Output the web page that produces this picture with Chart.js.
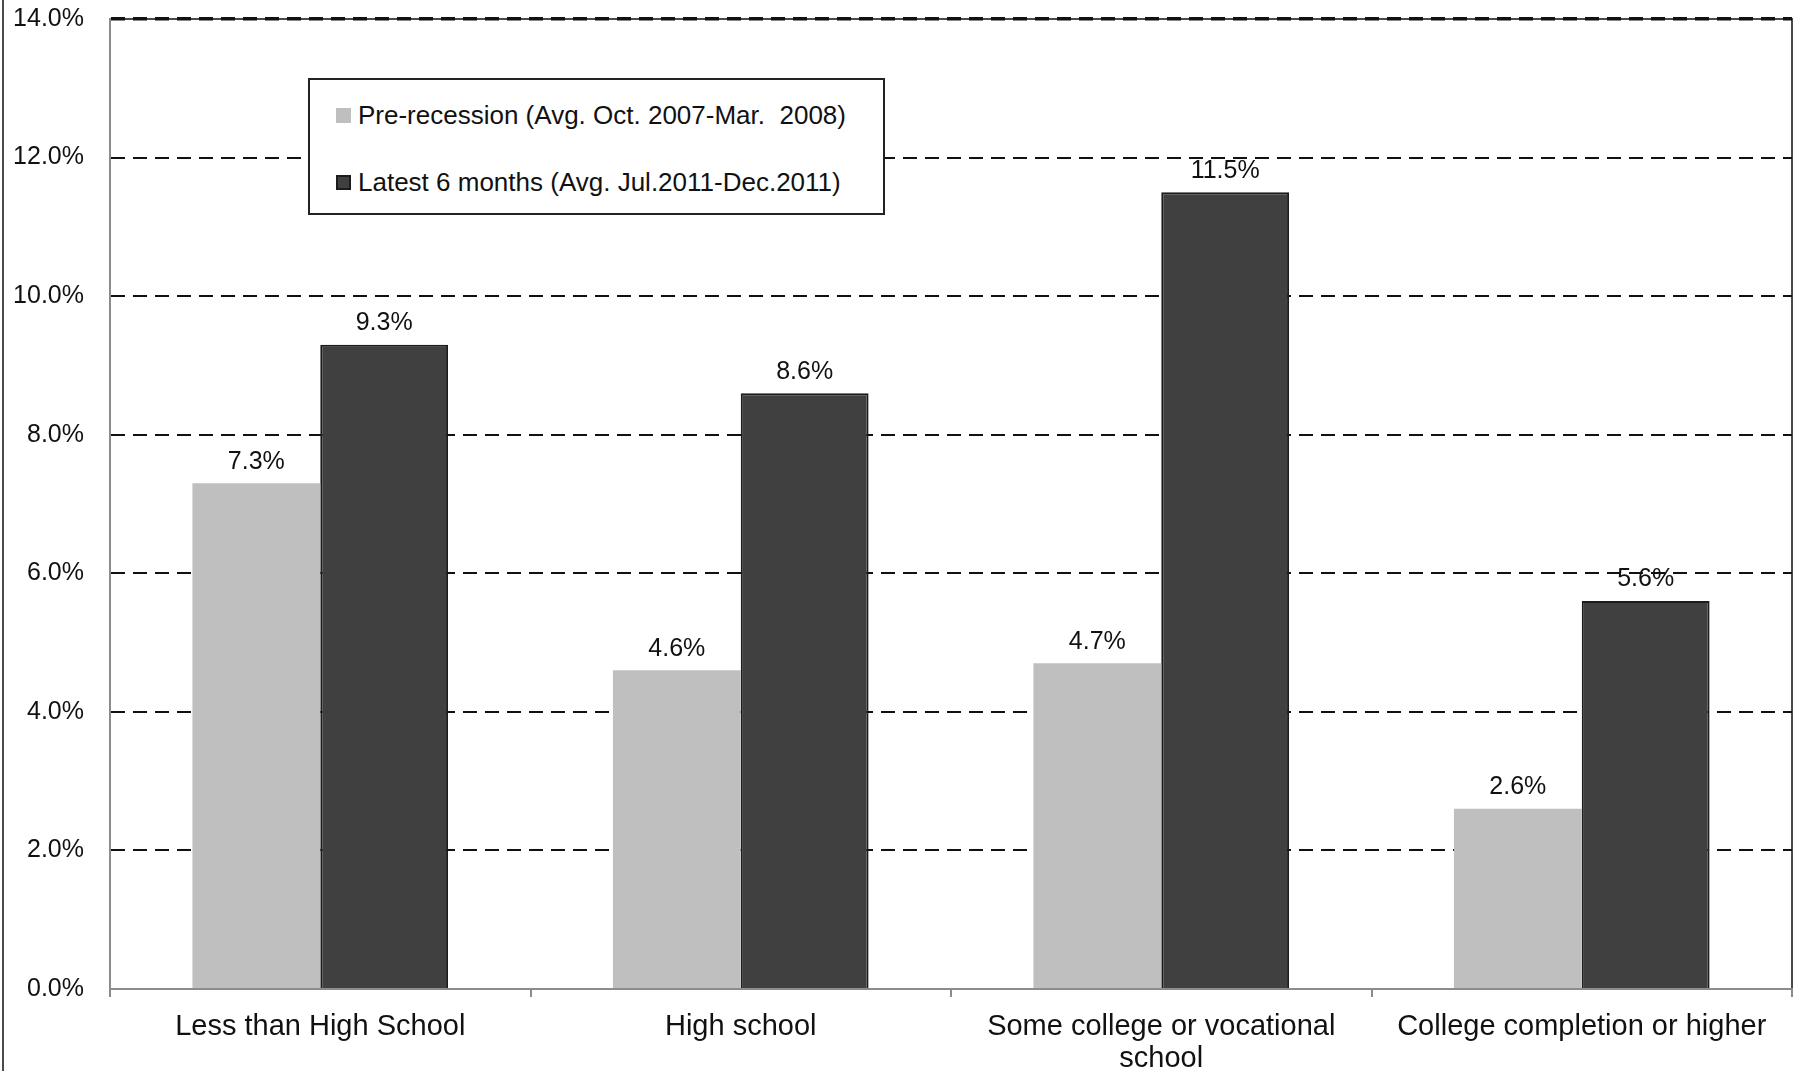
<!DOCTYPE html>
<html>
<head>
<meta charset="utf-8">
<script src="https://cdn.jsdelivr.net/npm/chart.js@4.4.1/dist/chart.umd.min.js"></script>
<style>
  body{margin:0;background:#fff;}
  #wrap{position:relative;width:1805px;height:1071px;overflow:hidden;}
  #edge{position:absolute;left:2px;top:0;width:2px;height:1071px;background:#4a4a4a;}
  #legend{position:absolute;left:308px;top:78px;width:577px;height:137px;border:2px solid #222;
          box-sizing:border-box;background:#fff;font:26px "Liberation Sans",Arial,sans-serif;color:#111;}
  #legend .item{position:absolute;left:26px;height:30px;display:flex;align-items:center;white-space:pre;}
  #legend .sw{width:15px;height:15px;margin-right:7px;box-sizing:border-box;}
</style>
</head>
<body>
<div id="wrap">
  <canvas id="chart" width="1805" height="1071"></canvas>
  <div id="edge"></div>
  <div id="legend"></div>
</div>
<script>
// unemployment rate by education level
const categories = [
  'Less than High School',
  'High school',
  ['Some college or vocational', 'school'],
  'College completion or higher'
];
const preRecession = [7.3, 4.6, 4.7, 2.6];
const latestSix    = [9.3, 8.6, 11.5, 5.6];
const seriesNames  = ['Pre-recession (Avg. Oct. 2007-Mar.  2008)', 'Latest 6 months (Avg. Jul.2011-Dec.2011)'];
const yMin = 0, yMax = 14, yStep = 2;

const FONT = '"Liberation Sans", Arial, sans-serif';
const pct = v => Number(v).toFixed(1) + '%';

// plot frame (right/top edges) under the grid
const plotFrame = {
  id:'plotFrame',
  beforeDraw(chart){
    const {ctx, chartArea:a} = chart;
    ctx.save();
    ctx.strokeStyle = '#4a4a4a'; ctx.lineWidth = 2;
    ctx.beginPath();
    ctx.moveTo(a.left, a.top); ctx.lineTo(a.right, a.top); ctx.lineTo(a.right, a.bottom);
    ctx.stroke();
    ctx.restore();
  }
};

// value labels above each bar
const valueLabels = {
  id:'valueLabels',
  afterDatasetsDraw(chart){
    const ctx = chart.ctx;
    ctx.save();
    ctx.font = '25px ' + FONT;
    ctx.fillStyle = '#111';
    ctx.textAlign = 'center';
    ctx.textBaseline = 'bottom';
    chart.data.datasets.forEach((ds, di) => {
      chart.getDatasetMeta(di).data.forEach((bar, i) => {
        ctx.fillText(pct(ds.data[i]), bar.x, bar.y - 9);
      });
    });
    ctx.restore();
  }
};

const chart = new Chart(document.getElementById('chart'), {
  type:'bar',
  data:{
    labels:categories,
    datasets:[
      {label:seriesNames[0], data:preRecession, backgroundColor:'#bfbfbf', borderWidth:0},
      {label:seriesNames[1], data:latestSix, backgroundColor:'#404040', borderColor:'#1c1c1c', borderWidth:2}
    ]
  },
  options:{
    responsive:false, animation:false, devicePixelRatio:1,
    categoryPercentage:0.608, barPercentage:1.0,
    layout:{padding:{left:0, right:13, top:0, bottom:0}},
    plugins:{legend:{display:false}, tooltip:{enabled:false}},
    scales:{
      x:{
        afterFit:s=>{ s.height = 82; },
        grid:{drawOnChartArea:false, drawTicks:true, tickLength:8, color:'#8c8c8c', lineWidth:2, offset:true},
        border:{color:'#8c8c8c', width:2},
        ticks:{font:{family:FONT, size:29, lineHeight:1.1}, color:'#111', padding:14, maxRotation:0, autoSkip:false}
      },
      y:{
        min:yMin, max:yMax,
        // fixed gutter; keep the tick padding from pushing the plot down
        afterFit:s=>{ s.width = 110; s.paddingTop = 19; s.paddingBottom = 15; },
        grid:{
          color:c=>c.tick && c.tick.value===0 ? 'rgba(0,0,0,0)' : '#111',
          lineWidth:c=>c.tick && c.tick.value===yMax ? 3.5 : 2,
          drawTicks:false
        },
        border:{color:'#8c8c8c', width:2, dash:[14,8]},
        ticks:{stepSize:yStep, callback:v=>pct(v), font:{family:FONT, size:25}, color:'#111', padding:26}
      }
    }
  },
  plugins:[plotFrame, valueLabels]
});

// legend box inside the plot
const lg = document.getElementById('legend');
chart.data.datasets.forEach((ds, i) => {
  const it = document.createElement('div');
  it.className = 'item';
  it.style.top = (20 + i*67) + 'px';
  const sw = document.createElement('span');
  sw.className = 'sw';
  sw.style.background = ds.backgroundColor;
  if (ds.borderWidth) sw.style.border = '2px solid ' + ds.borderColor;
  it.appendChild(sw);
  it.appendChild(document.createTextNode(ds.label));
  lg.appendChild(it);
});
</script>
</body>
</html>
